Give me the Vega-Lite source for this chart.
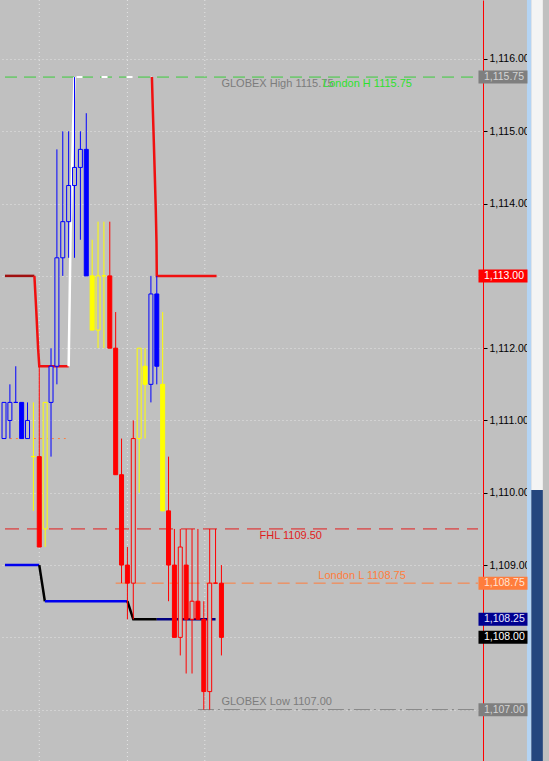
{
  "$schema": "https://vega.github.io/schema/vega-lite/v6.json",
  "width": 483,
  "height": 761,
  "autosize": "none",
  "padding": {"left": 0, "top": 0, "right": 66, "bottom": 0},
  "background": "#c0c0c0",
  "config": {
    "view": {"stroke": null, "fill": "#c0c0c0"},
    "font": "Liberation Sans",
    "axisY": {
      "orient": "right",
      "labelFont": "Liberation Sans",
      "labelFontSize": 10.5,
      "labelColor": "#000000",
      "tickColor": "#000000",
      "tickSize": 4,
      "labelPadding": 2,
      "domainColor": "#ff0000",
      "domainWidth": 1,
      "grid": true,
      "gridColor": "#e4e4e4",
      "gridDash": [1, 3],
      "gridWidth": 1
    }
  },
  "resolve": {"scale": {"color": "independent", "stroke": "independent", "fill": "independent", "strokeWidth": "independent", "strokeDash": "independent"}},
  "datasets": {
    "candles": [
      {"i": 1, "o": 1110.75, "h": 1111.25, "l": 1110.75, "c": 1111.25, "s": "b", "f": 0},
      {"i": 2, "o": 1111.0, "h": 1111.5, "l": 1110.75, "c": 1111.25, "s": "b", "f": 0},
      {"i": 3, "o": 1111.25, "h": 1111.75, "l": 1111.25, "c": 1111.25, "s": "b", "f": 0},
      {"i": 4, "o": 1111.25, "h": 1111.25, "l": 1110.75, "c": 1110.75, "s": "b", "f": 1},
      {"i": 5, "o": 1110.75, "h": 1111.25, "l": 1110.75, "c": 1111.0, "s": "b", "f": 0},
      {"i": 6, "o": 1110.5, "h": 1111.25, "l": 1109.75, "c": 1110.5, "s": "y", "f": 0},
      {"i": 7, "o": 1110.5, "h": 1111.75, "l": 1109.25, "c": 1109.25, "s": "r", "f": 1},
      {"i": 8, "o": 1109.5, "h": 1111.25, "l": 1109.25, "c": 1111.25, "s": "y", "f": 0},
      {"i": 9, "o": 1111.25, "h": 1112.0, "l": 1110.5, "c": 1111.75, "s": "b", "f": 0},
      {"i": 10, "o": 1111.75, "h": 1114.75, "l": 1111.5, "c": 1113.25, "s": "b", "f": 0},
      {"i": 11, "o": 1113.25, "h": 1115.0, "l": 1113.0, "c": 1113.75, "s": "b", "f": 0},
      {"i": 12, "o": 1113.75, "h": 1115.0, "l": 1113.25, "c": 1114.25, "s": "b", "f": 0},
      {"i": 13, "o": 1114.25, "h": 1115.75, "l": 1113.25, "c": 1114.5, "s": "b", "f": 0},
      {"i": 14, "o": 1114.5, "h": 1115.0, "l": 1113.5, "c": 1114.75, "s": "b", "f": 0},
      {"i": 15, "o": 1114.75, "h": 1115.25, "l": 1113.0, "c": 1113.0, "s": "b", "f": 1},
      {"i": 16, "o": 1113.0, "h": 1113.5, "l": 1112.25, "c": 1112.25, "s": "y", "f": 1},
      {"i": 17, "o": 1112.25, "h": 1113.75, "l": 1112.0, "c": 1113.0, "s": "y", "f": 0},
      {"i": 18, "o": 1113.0, "h": 1113.75, "l": 1112.0, "c": 1113.0, "s": "y", "f": 0},
      {"i": 19, "o": 1113.0, "h": 1113.75, "l": 1112.0, "c": 1112.0, "s": "r", "f": 1},
      {"i": 20, "o": 1112.0, "h": 1112.5, "l": 1110.25, "c": 1110.25, "s": "r", "f": 1},
      {"i": 21, "o": 1110.25, "h": 1110.75, "l": 1108.75, "c": 1109.0, "s": "r", "f": 1},
      {"i": 22, "o": 1109.0, "h": 1109.25, "l": 1108.25, "c": 1108.75, "s": "r", "f": 1},
      {"i": 23, "o": 1108.75, "h": 1111.0, "l": 1108.25, "c": 1110.75, "s": "r", "f": 0},
      {"i": 24, "o": 1110.75, "h": 1112.0, "l": 1110.0, "c": 1112.0, "s": "y", "f": 0},
      {"i": 25, "o": 1111.75, "h": 1112.0, "l": 1110.75, "c": 1111.5, "s": "y", "f": 1},
      {"i": 26, "o": 1111.5, "h": 1113.0, "l": 1111.25, "c": 1112.75, "s": "b", "f": 0},
      {"i": 27, "o": 1112.75, "h": 1113.0, "l": 1111.5, "c": 1111.75, "s": "b", "f": 1},
      {"i": 28, "o": 1111.5, "h": 1112.5, "l": 1109.75, "c": 1109.75, "s": "y", "f": 1},
      {"i": 29, "o": 1109.75, "h": 1110.5, "l": 1108.5, "c": 1109.0, "s": "r", "f": 1},
      {"i": 30, "o": 1109.0, "h": 1109.5, "l": 1108.0, "c": 1108.0, "s": "r", "f": 1},
      {"i": 31, "o": 1108.0, "h": 1109.5, "l": 1107.75, "c": 1109.25, "s": "r", "f": 0},
      {"i": 32, "o": 1109.0, "h": 1109.5, "l": 1107.5, "c": 1108.25, "s": "r", "f": 1},
      {"i": 33, "o": 1108.25, "h": 1109.5, "l": 1107.5, "c": 1108.5, "s": "r", "f": 0},
      {"i": 34, "o": 1108.5, "h": 1109.5, "l": 1108.25, "c": 1108.25, "s": "r", "f": 1},
      {"i": 35, "o": 1108.25, "h": 1108.5, "l": 1107.0, "c": 1107.25, "s": "r", "f": 1},
      {"i": 36, "o": 1107.25, "h": 1109.5, "l": 1107.0, "c": 1108.75, "s": "r", "f": 0},
      {"i": 37, "o": 1108.75, "h": 1109.5, "l": 1108.75, "c": 1108.75, "s": "r", "f": 0},
      {"i": 38, "o": 1108.75, "h": 1109.0, "l": 1107.75, "c": 1108.0, "s": "r", "f": 1}
    ],
    "steps": [
      {"seg": "r0", "c": "dr", "n": 1, "i": 1.1667, "p": 1113.0},
      {"seg": "r0", "c": "dr", "n": 2, "i": 6.17, "p": 1113.0},
      {"seg": "r1", "c": "r", "n": 1, "i": 6.17, "p": 1113.0},
      {"seg": "r1", "c": "r", "n": 2, "i": 6.5, "p": 1112.5},
      {"seg": "r1", "c": "r", "n": 3, "i": 6.8, "p": 1112.0},
      {"seg": "r1", "c": "r", "n": 4, "i": 7.0, "p": 1111.75},
      {"seg": "r1", "c": "r", "n": 5, "i": 12.0, "p": 1111.75},
      {"seg": "w", "c": "w", "n": 1, "i": 12.0, "p": 1111.75},
      {"seg": "w", "c": "w", "n": 2, "i": 12.17, "p": 1112.67},
      {"seg": "w", "c": "w", "n": 3, "i": 12.33, "p": 1113.63},
      {"seg": "w", "c": "w", "n": 4, "i": 12.58, "p": 1114.42},
      {"seg": "w", "c": "w", "n": 5, "i": 12.75, "p": 1115.06},
      {"seg": "w", "c": "w", "n": 6, "i": 13.0, "p": 1115.75},
      {"seg": "r2", "c": "r", "n": 1, "i": 26.17, "p": 1115.75},
      {"seg": "r2", "c": "r", "n": 2, "i": 26.33, "p": 1115.29},
      {"seg": "r2", "c": "r", "n": 3, "i": 26.5, "p": 1114.84},
      {"seg": "r2", "c": "r", "n": 4, "i": 26.67, "p": 1114.37},
      {"seg": "r2", "c": "r", "n": 5, "i": 26.83, "p": 1113.91},
      {"seg": "r2", "c": "r", "n": 6, "i": 26.95, "p": 1113.46},
      {"seg": "r2", "c": "r", "n": 7, "i": 27.0, "p": 1113.0},
      {"seg": "r2", "c": "r", "n": 8, "i": 37.17, "p": 1113.0},
      {"seg": "b1", "c": "b", "n": 1, "i": 1.1667, "p": 1109.0},
      {"seg": "b1", "c": "b", "n": 2, "i": 7.0, "p": 1109.0},
      {"seg": "k1", "c": "k", "n": 1, "i": 7.0, "p": 1109.0},
      {"seg": "k1", "c": "k", "n": 2, "i": 7.95, "p": 1108.5},
      {"seg": "b2", "c": "b", "n": 1, "i": 7.95, "p": 1108.5},
      {"seg": "b2", "c": "b", "n": 2, "i": 22.0, "p": 1108.5},
      {"seg": "k2", "c": "k", "n": 1, "i": 22.0, "p": 1108.5},
      {"seg": "k2", "c": "k", "n": 2, "i": 23.0, "p": 1108.25},
      {"seg": "k2", "c": "k", "n": 3, "i": 27.0, "p": 1108.25},
      {"seg": "nv", "c": "n", "n": 1, "i": 27.0, "p": 1108.25},
      {"seg": "nv", "c": "n", "n": 2, "i": 37.0, "p": 1108.25}
    ],
    "levels": [
      {"k": "lh", "p": 1115.75, "from": 1.1667, "to": 81.667},
      {"k": "fhl", "p": 1109.5, "from": 1.1667, "to": 81.667},
      {"k": "ll", "p": 1108.75, "from": 20.0, "to": 81.667},
      {"k": "gl", "p": 1107.0, "from": 34.0, "to": 81.667},
      {"k": "ol", "p": 1110.75, "from": 2.0, "to": 11.5}
    ],
    "labelsBelow": [
      {"t": "GLOBEX High 1115.75", "k": "gh", "at": 38.0, "p": 1115.75},
      {"t": "London H 1115.75", "k": "lh", "at": 55.3, "p": 1115.75},
      {"t": "FHL 1109.50", "k": "fhl", "at": 44.5, "p": 1109.5}
    ],
    "labelsAbove": [
      {"t": "London L 1108.75", "k": "ll", "at": 54.5, "p": 1108.75},
      {"t": "GLOBEX Low 1107.00", "k": "gl", "at": 38.0, "p": 1107.0}
    ],
    "boxes": [
      {"k": "gh", "p": 1115.75},
      {"k": "red", "p": 1113.0},
      {"k": "ll", "p": 1108.75},
      {"k": "blue", "p": 1108.25},
      {"k": "last", "p": 1108.0},
      {"k": "gl", "p": 1107.0}
    ]
  },
  "layer": [
    {
      "data": {"values": [{"g": 7}, {"g": 22}, {"g": 35.17}]},
      "mark": {"type": "rule", "stroke": "#e4e4e4", "strokeDash": [1, 3], "strokeWidth": 1},
      "encoding": {
        "x": {"field": "g", "type": "quantitative", "scale": {"domain": [1.1667, 81.667], "nice": false, "zero": false}, "axis": null}
      }
    },
    {
      "data": {"values": [{}]},
      "mark": {"type": "rect", "fill": "#b4d4f4"},
      "encoding": {
        "x": {"datum": 90.0, "type": "quantitative", "scale": {"domain": [1.1667, 81.667], "nice": false, "zero": false}, "axis": null},
        "x2": {"datum": 90.75},
        "y": {"datum": 1106.29, "type": "quantitative", "scale": {"domain": [1106.29, 1116.816], "nice": false, "zero": false}, "title": null, "axis": {"values": [1107, 1108, 1109, 1110, 1111, 1112, 1113, 1114, 1115, 1116], "format": ",.2f", "orient": "right", "labelExpr": "indexof([1107, 1108, 1113], datum.value) >= 0 ? '' : datum.label"}},
        "y2": {"datum": 1116.816}
      }
    },
    {
      "data": {"values": [{}]},
      "mark": {"type": "rect", "fill": "#f4f4f4"},
      "encoding": {
        "x": {"datum": 90.75, "type": "quantitative", "scale": {"domain": [1.1667, 81.667], "nice": false, "zero": false}, "axis": null},
        "x2": {"datum": 92.7},
        "y": {"datum": 1110.04, "type": "quantitative", "scale": {"domain": [1106.29, 1116.816], "nice": false, "zero": false}, "title": null, "axis": {"values": [1107, 1108, 1109, 1110, 1111, 1112, 1113, 1114, 1115, 1116], "format": ",.2f", "orient": "right", "labelExpr": "indexof([1107, 1108, 1113], datum.value) >= 0 ? '' : datum.label"}},
        "y2": {"datum": 1116.816}
      }
    },
    {
      "data": {"values": [{}]},
      "mark": {"type": "rect", "fill": "#24467e"},
      "encoding": {
        "x": {"datum": 90.75, "type": "quantitative", "scale": {"domain": [1.1667, 81.667], "nice": false, "zero": false}, "axis": null},
        "x2": {"datum": 92.7},
        "y": {"datum": 1106.29, "type": "quantitative", "scale": {"domain": [1106.29, 1116.816], "nice": false, "zero": false}, "title": null, "axis": {"values": [1107, 1108, 1109, 1110, 1111, 1112, 1113, 1114, 1115, 1116], "format": ",.2f", "orient": "right", "labelExpr": "indexof([1107, 1108, 1113], datum.value) >= 0 ? '' : datum.label"}},
        "y2": {"datum": 1110.04}
      }
    },
    {
      "data": {"name": "levels"},
      "mark": {"type": "rule", "strokeWidth": 1},
      "encoding": {
        "x": {"field": "from", "type": "quantitative", "scale": {"domain": [1.1667, 81.667], "nice": false, "zero": false}, "axis": null},
        "x2": {"field": "to"},
        "y": {"field": "p", "type": "quantitative", "scale": {"domain": [1106.29, 1116.816], "nice": false, "zero": false}, "title": null, "axis": {"values": [1107, 1108, 1109, 1110, 1111, 1112, 1113, 1114, 1115, 1116], "format": ",.2f", "orient": "right", "labelExpr": "indexof([1107, 1108, 1113], datum.value) >= 0 ? '' : datum.label"}},
        "color": {"field": "k", "type": "nominal", "legend": null, "scale": {"domain": ["lh", "fhl", "ll", "gl", "ol"], "range": ["#3ccc3c", "#e41c1c", "#ff7d3c", "#808080", "#ff7d3c"]}},
        "strokeDash": {"field": "k", "type": "nominal", "legend": null, "scale": {"domain": ["lh", "fhl", "ll", "gl", "ol"], "range": [[12, 7], [14, 8], [12, 6], [16, 4, 2, 4], [2, 4]]}}
      }
    },
    {
      "data": {"values": [{}]},
      "mark": {"type": "rule", "stroke": "#ffffff", "strokeWidth": 2, "strokeDash": [6, 19], "strokeDashOffset": -2},
      "encoding": {
        "x": {"datum": 13.0, "type": "quantitative", "scale": {"domain": [1.1667, 81.667], "nice": false, "zero": false}, "axis": null},
        "x2": {"datum": 26.17},
        "y": {"datum": 1115.75, "type": "quantitative", "scale": {"domain": [1106.29, 1116.816], "nice": false, "zero": false}, "title": null, "axis": {"values": [1107, 1108, 1109, 1110, 1111, 1112, 1113, 1114, 1115, 1116], "format": ",.2f", "orient": "right", "labelExpr": "indexof([1107, 1108, 1113], datum.value) >= 0 ? '' : datum.label"}}
      }
    },
    {
      "data": {"name": "steps"},
      "mark": {"type": "line", "strokeCap": "butt", "strokeJoin": "miter"},
      "encoding": {
        "x": {"field": "i", "type": "quantitative", "scale": {"domain": [1.1667, 81.667], "nice": false, "zero": false}, "axis": null},
        "y": {"field": "p", "type": "quantitative", "scale": {"domain": [1106.29, 1116.816], "nice": false, "zero": false}, "title": null, "axis": {"values": [1107, 1108, 1109, 1110, 1111, 1112, 1113, 1114, 1115, 1116], "format": ",.2f", "orient": "right", "labelExpr": "indexof([1107, 1108, 1113], datum.value) >= 0 ? '' : datum.label"}},
        "detail": {"field": "seg"},
        "order": {"field": "n", "type": "quantitative"},
        "color": {"field": "c", "type": "nominal", "legend": null, "scale": {"domain": ["dr", "r", "w", "b", "k", "n"], "range": ["#a01010", "#f01010", "#ffffff", "#0000ee", "#000000", "#000080"]}},
        "strokeWidth": {"field": "c", "type": "nominal", "legend": null, "scale": {"domain": ["dr", "r", "w", "b", "k", "n"], "range": [2.5, 2.5, 2, 2, 2, 2]}}
      }
    },
    {
      "data": {"name": "candles"},
      "mark": {"type": "rule", "strokeWidth": 1},
      "encoding": {
        "x": {"field": "i", "type": "quantitative", "scale": {"domain": [1.1667, 81.667], "nice": false, "zero": false}, "axis": null},
        "y": {"field": "l", "type": "quantitative", "scale": {"domain": [1106.29, 1116.816], "nice": false, "zero": false}, "title": null, "axis": {"values": [1107, 1108, 1109, 1110, 1111, 1112, 1113, 1114, 1115, 1116], "format": ",.2f", "orient": "right", "labelExpr": "indexof([1107, 1108, 1113], datum.value) >= 0 ? '' : datum.label"}},
        "y2": {"field": "h"},
        "color": {"field": "s", "type": "nominal", "legend": null, "scale": {"domain": ["b", "y", "r"], "range": ["#0000ff", "#ffff00", "#ff0000"]}}
      }
    },
    {
      "data": {"name": "candles"},
      "mark": {"type": "bar", "width": 4, "strokeWidth": 1},
      "encoding": {
        "x": {"field": "i", "type": "quantitative", "scale": {"domain": [1.1667, 81.667], "nice": false, "zero": false}, "axis": null},
        "y": {"field": "o", "type": "quantitative", "scale": {"domain": [1106.29, 1116.816], "nice": false, "zero": false}, "title": null, "axis": {"values": [1107, 1108, 1109, 1110, 1111, 1112, 1113, 1114, 1115, 1116], "format": ",.2f", "orient": "right", "labelExpr": "indexof([1107, 1108, 1113], datum.value) >= 0 ? '' : datum.label"}},
        "y2": {"field": "c"},
        "stroke": {"field": "s", "type": "nominal", "legend": null, "scale": {"domain": ["b", "y", "r"], "range": ["#0000ff", "#ffff00", "#ff0000"]}},
        "fill": {
          "condition": {"test": "datum.f == 1", "field": "s", "type": "nominal", "legend": null, "scale": {"domain": ["b", "y", "r"], "range": ["#0000ff", "#ffff00", "#ff0000"]}},
          "value": "#c0c0c0"
        }
      }
    },
    {
      "data": {"name": "labelsBelow"},
      "mark": {"type": "text", "align": "left", "baseline": "middle", "dy": 7, "fontSize": 11, "font": "Liberation Sans"},
      "encoding": {
        "x": {"field": "at", "type": "quantitative", "scale": {"domain": [1.1667, 81.667], "nice": false, "zero": false}, "axis": null},
        "y": {"field": "p", "type": "quantitative", "scale": {"domain": [1106.29, 1116.816], "nice": false, "zero": false}, "title": null, "axis": {"values": [1107, 1108, 1109, 1110, 1111, 1112, 1113, 1114, 1115, 1116], "format": ",.2f", "orient": "right", "labelExpr": "indexof([1107, 1108, 1113], datum.value) >= 0 ? '' : datum.label"}},
        "text": {"field": "t"},
        "color": {"field": "k", "type": "nominal", "legend": null, "scale": {"domain": ["gh", "lh", "fhl"], "range": ["#7c7c7c", "#2ee02e", "#e01c1c"]}}
      }
    },
    {
      "data": {"name": "labelsAbove"},
      "mark": {"type": "text", "align": "left", "baseline": "middle", "dy": -7.5, "fontSize": 11, "font": "Liberation Sans"},
      "encoding": {
        "x": {"field": "at", "type": "quantitative", "scale": {"domain": [1.1667, 81.667], "nice": false, "zero": false}, "axis": null},
        "y": {"field": "p", "type": "quantitative", "scale": {"domain": [1106.29, 1116.816], "nice": false, "zero": false}, "title": null, "axis": {"values": [1107, 1108, 1109, 1110, 1111, 1112, 1113, 1114, 1115, 1116], "format": ",.2f", "orient": "right", "labelExpr": "indexof([1107, 1108, 1113], datum.value) >= 0 ? '' : datum.label"}},
        "text": {"field": "t"},
        "color": {"field": "k", "type": "nominal", "legend": null, "scale": {"domain": ["ll", "gl"], "range": ["#ff7d3c", "#7c7c7c"]}}
      }
    },
    {
      "data": {"name": "boxes"},
      "mark": {"type": "tick", "orient": "horizontal", "size": 49, "thickness": 13, "opacity": 1},
      "encoding": {
        "x": {"datum": 85.92, "type": "quantitative", "scale": {"domain": [1.1667, 81.667], "nice": false, "zero": false}, "axis": null},
        "y": {"field": "p", "type": "quantitative", "scale": {"domain": [1106.29, 1116.816], "nice": false, "zero": false}, "title": null, "axis": {"values": [1107, 1108, 1109, 1110, 1111, 1112, 1113, 1114, 1115, 1116], "format": ",.2f", "orient": "right", "labelExpr": "indexof([1107, 1108, 1113], datum.value) >= 0 ? '' : datum.label"}},
        "color": {"field": "k", "type": "nominal", "legend": null, "scale": {"domain": ["gh", "red", "ll", "blue", "last", "gl"], "range": ["#7f7f7f", "#ff0000", "#ff7d3c", "#000090", "#000000", "#7f7f7f"]}}
      }
    },
    {
      "data": {"name": "boxes"},
      "mark": {"type": "text", "align": "left", "baseline": "middle", "fontSize": 10.5, "font": "Liberation Sans"},
      "encoding": {
        "x": {"datum": 82.67, "type": "quantitative", "scale": {"domain": [1.1667, 81.667], "nice": false, "zero": false}, "axis": null},
        "y": {"field": "p", "type": "quantitative", "scale": {"domain": [1106.29, 1116.816], "nice": false, "zero": false}, "title": null, "axis": {"values": [1107, 1108, 1109, 1110, 1111, 1112, 1113, 1114, 1115, 1116], "format": ",.2f", "orient": "right", "labelExpr": "indexof([1107, 1108, 1113], datum.value) >= 0 ? '' : datum.label"}},
        "text": {"field": "p", "type": "quantitative", "format": ",.2f"},
        "color": {"field": "k", "type": "nominal", "legend": null, "scale": {"domain": ["gh", "red", "ll", "blue", "last", "gl"], "range": ["#d4d4d4", "#ffffff", "#ffe4d4", "#e8e8ff", "#ffffff", "#d4d4d4"]}}
      }
    }
  ]
}
